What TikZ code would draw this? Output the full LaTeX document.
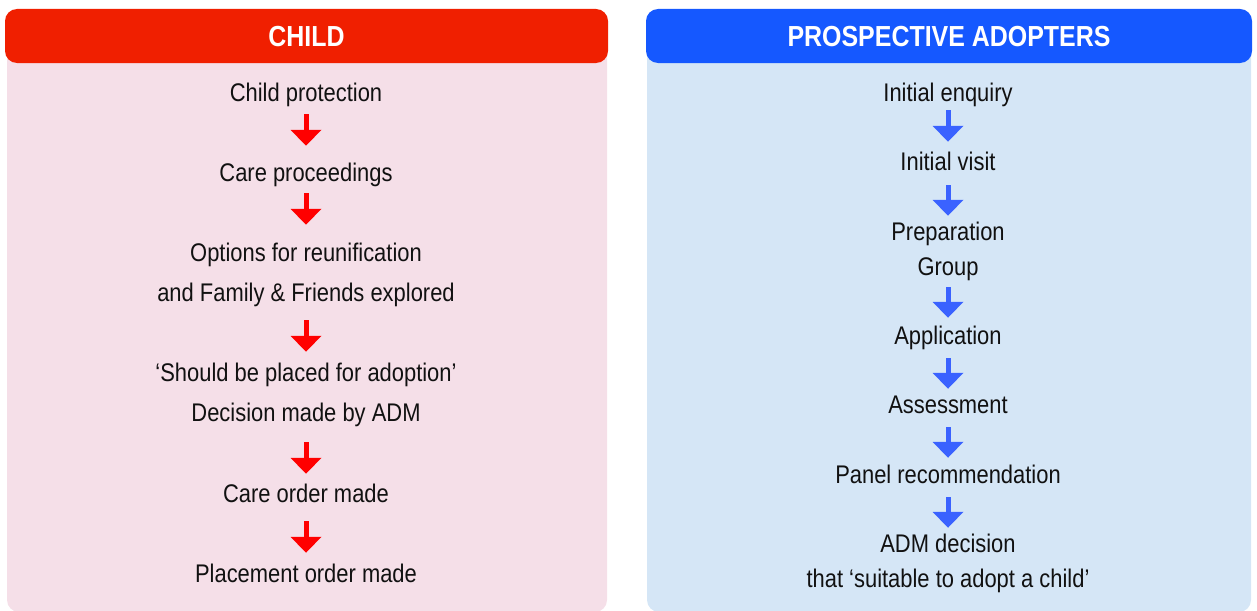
\documentclass[tikz,border=0pt]{standalone}
\usepackage{fontspec}
\setmainfont[FakeStretch=0.86]{Liberation Sans}
\usetikzlibrary{arrows.meta}
\definecolor{hdred}{RGB}{240,31,0}
\definecolor{hdblue}{RGB}{21,88,255}
\definecolor{bdpink}{RGB}{245,223,232}
\definecolor{bdblue}{RGB}{213,230,246}
\definecolor{arred}{RGB}{255,0,0}
\definecolor{arblue}{RGB}{58,98,255}
\definecolor{txt}{RGB}{17,17,17}
\tikzset{
  hdbox/.style={rounded corners=12pt},
  bdbox/.style={rounded corners=12pt},
  hdtext/.style={text=white, font=\fontsize{29}{34}\selectfont\bfseries, inner sep=0pt, anchor=base},
  item/.style={text=txt, font=\fontsize{25.5}{30}\selectfont, inner sep=0pt, text height=18pt, text depth=5pt, anchor=base},
  redarr/.style 2 args={draw=arred, line width=5pt, -{Triangle[width=30pt,length=16pt]}, shorten <=#1pt, shorten >=#2pt},
  bluearr/.style 2 args={draw=arblue, line width=5pt, -{Triangle[width=30pt,length=16pt]}, shorten <=#1pt, shorten >=#2pt}
}
\begin{document}
\begin{tikzpicture}[x=1pt,y=-1pt]
\useasboundingbox (0,0) rectangle (1257,610);
% left panel
\fill[bdpink, bdbox] (7,40) rectangle (607,612);
\fill[hdred, hdbox] (5,9) rectangle (608,63);
\node[hdtext] (lh) at (306.5,47) {CHILD};
% right panel
\fill[bdblue, bdbox] (647,40) rectangle (1251,612);
\fill[hdblue, hdbox] (646,9) rectangle (1252,63);
\node[hdtext] (rh) at (949,47) {PROSPECTIVE ADOPTERS};
% left items
\node[item] (c1) at (306,101) {Child protection};
\node[item] (c2) at (306,181) {Care proceedings};
\node[item] (c3) at (306,261) {Options for reunification};
\node[item] (c4) at (306,301) {and Family \& Friends explored};
\node[item] (c5) at (306,381) {‘Should be placed for adoption’};
\node[item] (c6) at (306,421) {Decision made by ADM};
\node[item] (c7) at (306,502) {Care order made};
\node[item] (c8) at (306,582) {Placement order made};
\draw[redarr={8}{17}] (c1.south) -- (c2.north);
\draw[redarr={7}{18}] (c2.south) -- (c3.north);
\draw[redarr={14}{11}] (c4.south) -- (c5.north);
\draw[redarr={16}{10}] (c6.south) -- (c7.north);
\draw[redarr={14}{11}] (c7.south) -- (c8.north);
% right items
\node[item] (p1) at (948,101) {Initial enquiry};
\node[item] (p2) at (948,170) {Initial visit};
\node[item] (p3) at (948,240) {Preparation};
\node[item] (p4) at (948,275) {Group};
\node[item] (p5) at (948,344) {Application};
\node[item] (p6) at (948,413) {Assessment};
\node[item] (p7) at (948,483) {Panel recommendation};
\node[item] (p8) at (948,552) {ADM decision};
\node[item] (p9) at (948,587) {that ‘suitable to adopt a child’};
\draw[bluearr={4}{10}] (p1.south) -- (p2.north);
\draw[bluearr={10}{6}] (p2.south) -- (p3.north);
\draw[bluearr={7}{8}] (p4.south) -- (p5.north);
\draw[bluearr={9}{6}] (p5.south) -- (p6.north);
\draw[bluearr={9}{7}] (p6.south) -- (p7.north);
\draw[bluearr={9}{6}] (p7.south) -- (p8.north);
\end{tikzpicture}
\end{document}
